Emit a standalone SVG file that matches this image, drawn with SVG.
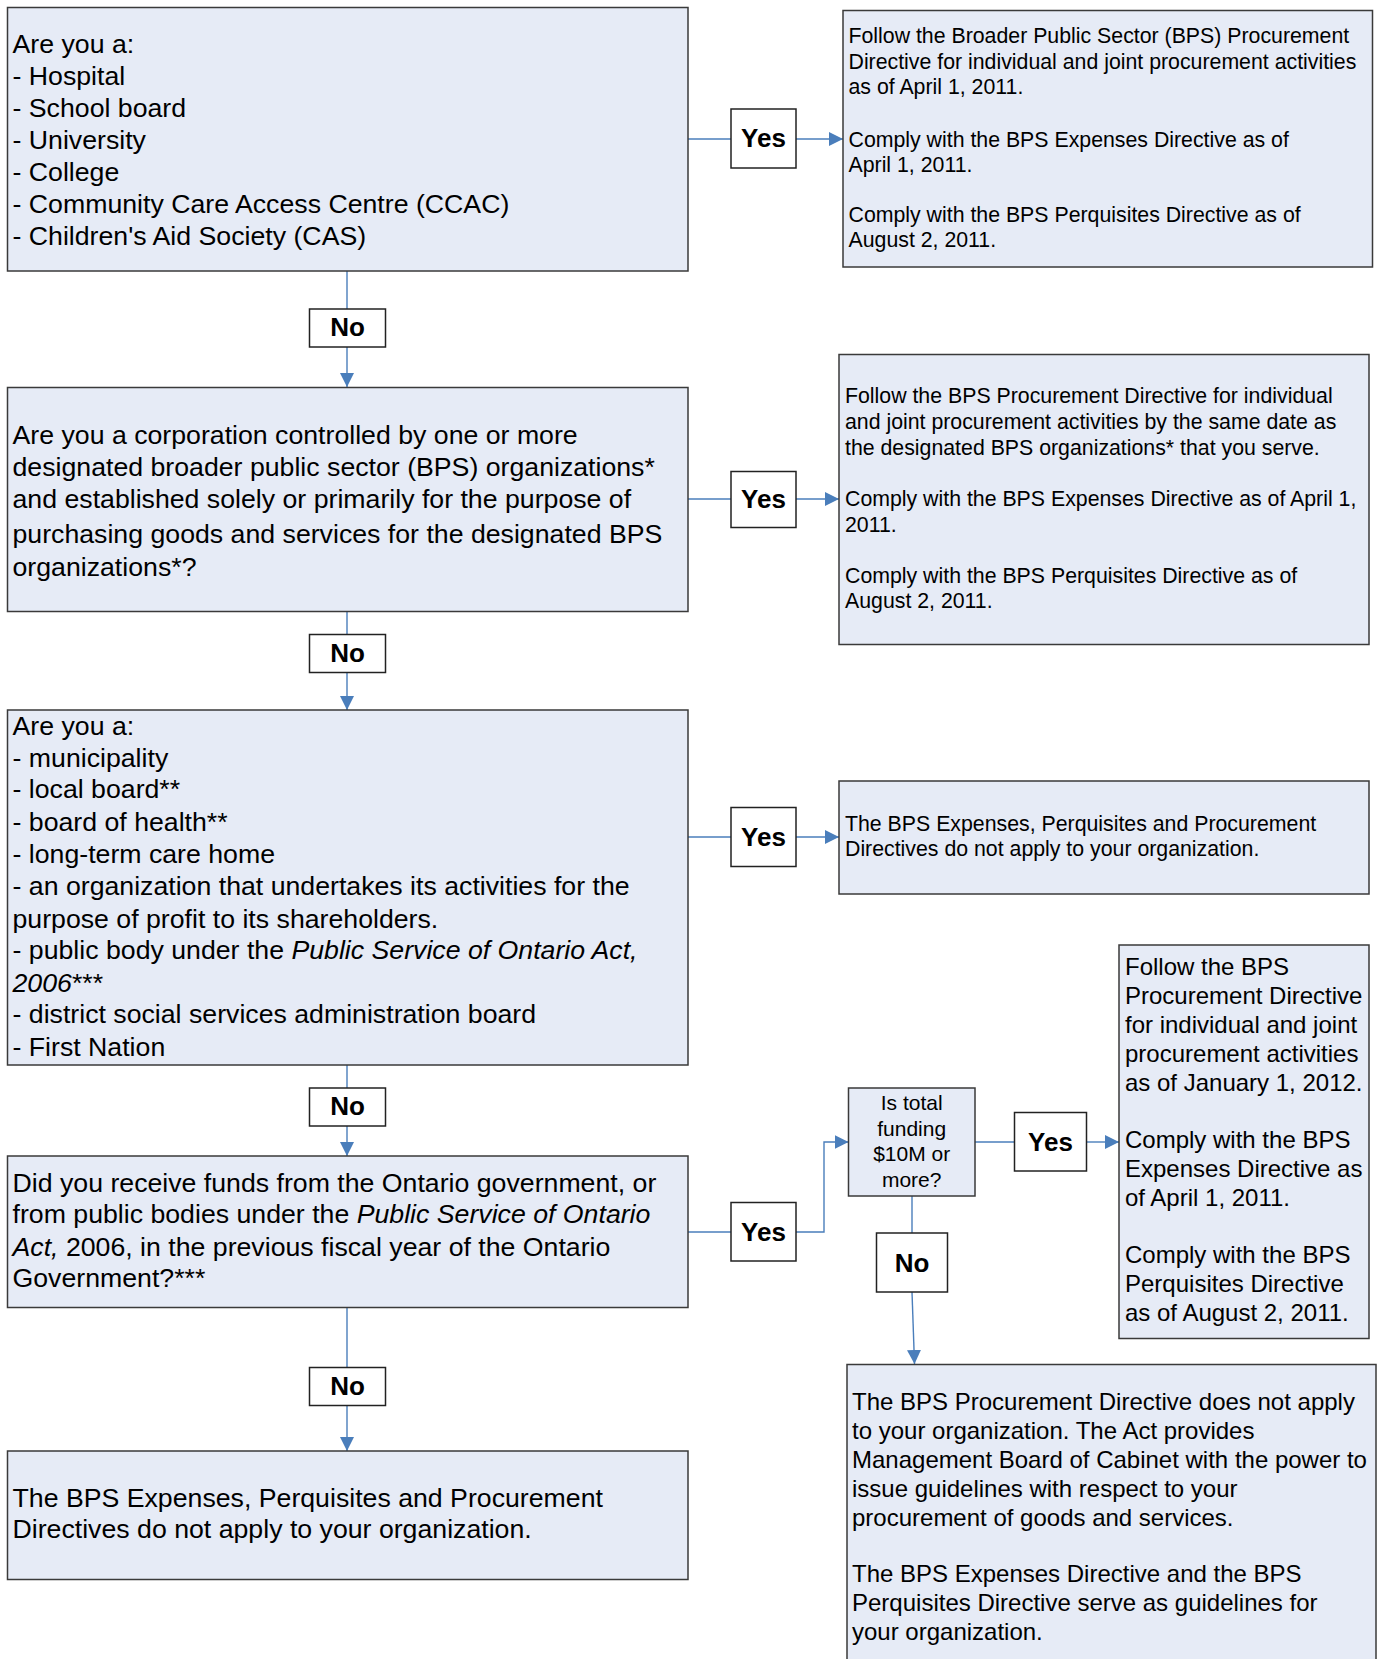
<svg xmlns="http://www.w3.org/2000/svg" width="1379" height="1659" viewBox="0 0 1379 1659">
<style>
text{font-family:"Liberation Sans",Arial,sans-serif;fill:#000}
.box{fill:#e6ebf6;stroke:#3a3a3a;stroke-width:1.5}
.lbl{fill:#fff;stroke:#222;stroke-width:1.5}
.big{font-size:26.7px}
.mid{font-size:21.3px}
.fd{font-size:21px}
.m24{font-size:24px}
.lt{font-size:26px;font-weight:bold;text-anchor:middle}
.con{fill:none;stroke:#4a7ebb;stroke-width:1.4}
.it{font-style:italic}
</style>
<defs>
<marker id="ah" markerUnits="userSpaceOnUse" viewBox="0 0 14 14" refX="14" refY="7" markerWidth="14" markerHeight="14" orient="auto">
<path d="M0,0 L14,7 L0,14 z" fill="#4a7ebb"/>
</marker>
</defs>

<g id="connectors">
<path class="con" d="M688,139 H731"/>
<path class="con" d="M796,139 H843" marker-end="url(#ah)"/>
<path class="con" d="M347,271 V309"/>
<path class="con" d="M347,347 V387" marker-end="url(#ah)"/>
<path class="con" d="M688,499 H731"/>
<path class="con" d="M796,499 H839" marker-end="url(#ah)"/>
<path class="con" d="M347,612 V634"/>
<path class="con" d="M347,672 V710" marker-end="url(#ah)"/>
<path class="con" d="M688,837 H731"/>
<path class="con" d="M796,837 H839" marker-end="url(#ah)"/>
<path class="con" d="M347,1065 V1088"/>
<path class="con" d="M347,1126 V1156" marker-end="url(#ah)"/>
<path class="con" d="M688,1232 H731"/>
<path class="con" d="M796,1232 H824 V1142 H848.5" marker-end="url(#ah)"/>
<path class="con" d="M975,1142 H1014"/>
<path class="con" d="M1087,1142 H1119" marker-end="url(#ah)"/>
<path class="con" d="M912,1196 V1233"/>
<path class="con" d="M912,1292 L914.5,1364" marker-end="url(#ah)"/>
<path class="con" d="M347,1308 V1367"/>
<path class="con" d="M347,1405 V1451" marker-end="url(#ah)"/>
</g>

<g id="q1">
<rect class="box" x="7.5" y="7.5" width="680.5" height="263.5"/>
<text class="big" x="12.5" y="53">Are you a:</text>
<text class="big" x="12.5" y="85">- Hospital</text>
<text class="big" x="12.5" y="117">- School board</text>
<text class="big" x="12.5" y="149">- University</text>
<text class="big" x="12.5" y="181">- College</text>
<text class="big" x="12.5" y="213">- Community Care Access Centre (CCAC)</text>
<text class="big" x="12.5" y="245">- Children's Aid Society (CAS)</text>
</g>

<g id="yes1">
<rect class="lbl" x="731" y="109" width="65" height="59"/>
<text class="lt" x="763.5" y="147">Yes</text>
</g>

<g id="r1">
<rect class="box" x="843" y="10.5" width="529.5" height="256.5"/>
<text class="mid" x="848.5" y="43">Follow the Broader Public Sector (BPS) Procurement</text>
<text class="mid" x="848.5" y="69">Directive for individual and joint procurement activities</text>
<text class="mid" x="848.5" y="94">as of April 1, 2011.</text>
<text class="mid" x="848.5" y="146.5">Comply with the BPS Expenses Directive as of</text>
<text class="mid" x="848.5" y="171.5">April 1, 2011.</text>
<text class="mid" x="848.5" y="221.5">Comply with the BPS Perquisites Directive as of</text>
<text class="mid" x="848.5" y="247">August 2, 2011.</text>
</g>

<g id="no1">
<rect class="lbl" x="309.5" y="309" width="76" height="38"/>
<text class="lt" x="347.5" y="336">No</text>
</g>

<g id="q2">
<rect class="box" x="7.5" y="387.5" width="680.5" height="224"/>
<text class="big" x="12.5" y="444">Are you a corporation controlled by one or more</text>
<text class="big" x="12.5" y="476">designated broader public sector (BPS) organizations*</text>
<text class="big" x="12.5" y="508">and established solely or primarily for the purpose of</text>
<text class="big" x="12.5" y="543">purchasing goods and services for the designated BPS</text>
<text class="big" x="12.5" y="576">organizations*?</text>
</g>

<g id="yes2">
<rect class="lbl" x="731" y="471.5" width="65" height="56"/>
<text class="lt" x="763.5" y="508">Yes</text>
</g>

<g id="r2">
<rect class="box" x="839" y="354.5" width="530" height="290"/>
<text class="mid" x="845" y="403">Follow the BPS Procurement Directive for individual</text>
<text class="mid" x="845" y="429">and joint procurement activities by the same date as</text>
<text class="mid" x="845" y="455">the designated BPS organizations* that you serve.</text>
<text class="mid" x="845" y="506">Comply with the BPS Expenses Directive as of April 1,</text>
<text class="mid" x="845" y="532">2011.</text>
<text class="mid" x="845" y="583">Comply with the BPS Perquisites Directive as of</text>
<text class="mid" x="845" y="608">August 2, 2011.</text>
</g>

<g id="no2">
<rect class="lbl" x="309.5" y="634.5" width="76" height="38"/>
<text class="lt" x="347.5" y="662">No</text>
</g>

<g id="q3">
<rect class="box" x="7.5" y="710" width="680.5" height="355"/>
<text class="big" x="12.5" y="735">Are you a:</text>
<text class="big" x="12.5" y="767">- municipality</text>
<text class="big" x="12.5" y="798">- local board**</text>
<text class="big" x="12.5" y="831">- board of health**</text>
<text class="big" x="12.5" y="863">- long-term care home</text>
<text class="big" x="12.5" y="895">- an organization that undertakes its activities for the</text>
<text class="big" x="12.5" y="928">purpose of profit to its shareholders.</text>
<text class="big" x="12.5" y="959">- public body under the <tspan class="it">Public Service of Ontario Act,</tspan></text>
<text class="big" x="12.5" y="992"><tspan class="it">2006</tspan>***</text>
<text class="big" x="12.5" y="1023">- district social services administration board</text>
<text class="big" x="12.5" y="1056">- First Nation</text>
</g>

<g id="yes3">
<rect class="lbl" x="731" y="807.5" width="65" height="59"/>
<text class="lt" x="763.5" y="846">Yes</text>
</g>

<g id="r3">
<rect class="box" x="839" y="781" width="530" height="113"/>
<text class="mid" x="845" y="831">The BPS Expenses, Perquisites and Procurement</text>
<text class="mid" x="845" y="856">Directives do not apply to your organization.</text>
</g>

<g id="no3">
<rect class="lbl" x="309.5" y="1088" width="76" height="38"/>
<text class="lt" x="347.5" y="1115">No</text>
</g>

<g id="q4">
<rect class="box" x="7.5" y="1156" width="680.5" height="151.5"/>
<text class="big" x="12.5" y="1192">Did you receive funds from the Ontario government, or</text>
<text class="big" x="12.5" y="1223">from public bodies under the <tspan class="it">Public Service of Ontario</tspan></text>
<text class="big" x="12.5" y="1256"><tspan class="it">Act,</tspan> 2006, in the previous fiscal year of the Ontario</text>
<text class="big" x="12.5" y="1287">Government?***</text>
</g>

<g id="yes5">
<rect class="lbl" x="731" y="1202.5" width="65" height="58.5"/>
<text class="lt" x="763.5" y="1241">Yes</text>
</g>

<g id="funding">
<rect class="box" x="848.5" y="1088" width="126.5" height="108"/>
<text class="fd" x="911.7" y="1110" text-anchor="middle">Is total</text>
<text class="fd" x="911.7" y="1135.5" text-anchor="middle">funding</text>
<text class="fd" x="911.7" y="1161" text-anchor="middle">$10M or</text>
<text class="fd" x="911.7" y="1186.5" text-anchor="middle">more?</text>
</g>

<g id="yes4">
<rect class="lbl" x="1014.5" y="1112.5" width="72" height="58.5"/>
<text class="lt" x="1050.5" y="1151">Yes</text>
</g>

<g id="r4">
<rect class="box" x="1119" y="945" width="250" height="393.5"/>
<text class="m24" x="1125" y="975">Follow the BPS</text>
<text class="m24" x="1125" y="1004">Procurement Directive</text>
<text class="m24" x="1125" y="1033">for individual and joint</text>
<text class="m24" x="1125" y="1062">procurement activities</text>
<text class="m24" x="1125" y="1091">as of January 1, 2012.</text>
<text class="m24" x="1125" y="1148">Comply with the BPS</text>
<text class="m24" x="1125" y="1177">Expenses Directive as</text>
<text class="m24" x="1125" y="1206">of April 1, 2011.</text>
<text class="m24" x="1125" y="1263">Comply with the BPS</text>
<text class="m24" x="1125" y="1292">Perquisites Directive</text>
<text class="m24" x="1125" y="1321">as of August 2, 2011.</text>
</g>

<g id="no5">
<rect class="lbl" x="876.5" y="1233" width="71" height="59"/>
<text class="lt" x="912" y="1272">No</text>
</g>

<g id="no4">
<rect class="lbl" x="309.5" y="1367.5" width="76" height="38"/>
<text class="lt" x="347.5" y="1395">No</text>
</g>

<g id="r5">
<rect class="box" x="7.5" y="1451" width="680.5" height="128.5"/>
<text class="big" x="12.5" y="1507">The BPS Expenses, Perquisites and Procurement</text>
<text class="big" x="12.5" y="1538">Directives do not apply to your organization.</text>
</g>

<g id="r6">
<rect class="box" x="847" y="1364.5" width="529" height="310"/>
<text class="m24" x="852" y="1410">The BPS Procurement Directive does not apply</text>
<text class="m24" x="852" y="1439">to your organization. The Act provides</text>
<text class="m24" x="852" y="1468">Management Board of Cabinet with the power to</text>
<text class="m24" x="852" y="1497">issue guidelines with respect to your</text>
<text class="m24" x="852" y="1526">procurement of goods and services.</text>
<text class="m24" x="852" y="1582">The BPS Expenses Directive and the BPS</text>
<text class="m24" x="852" y="1611">Perquisites Directive serve as guidelines for</text>
<text class="m24" x="852" y="1640">your organization.</text>
</g>
</svg>
